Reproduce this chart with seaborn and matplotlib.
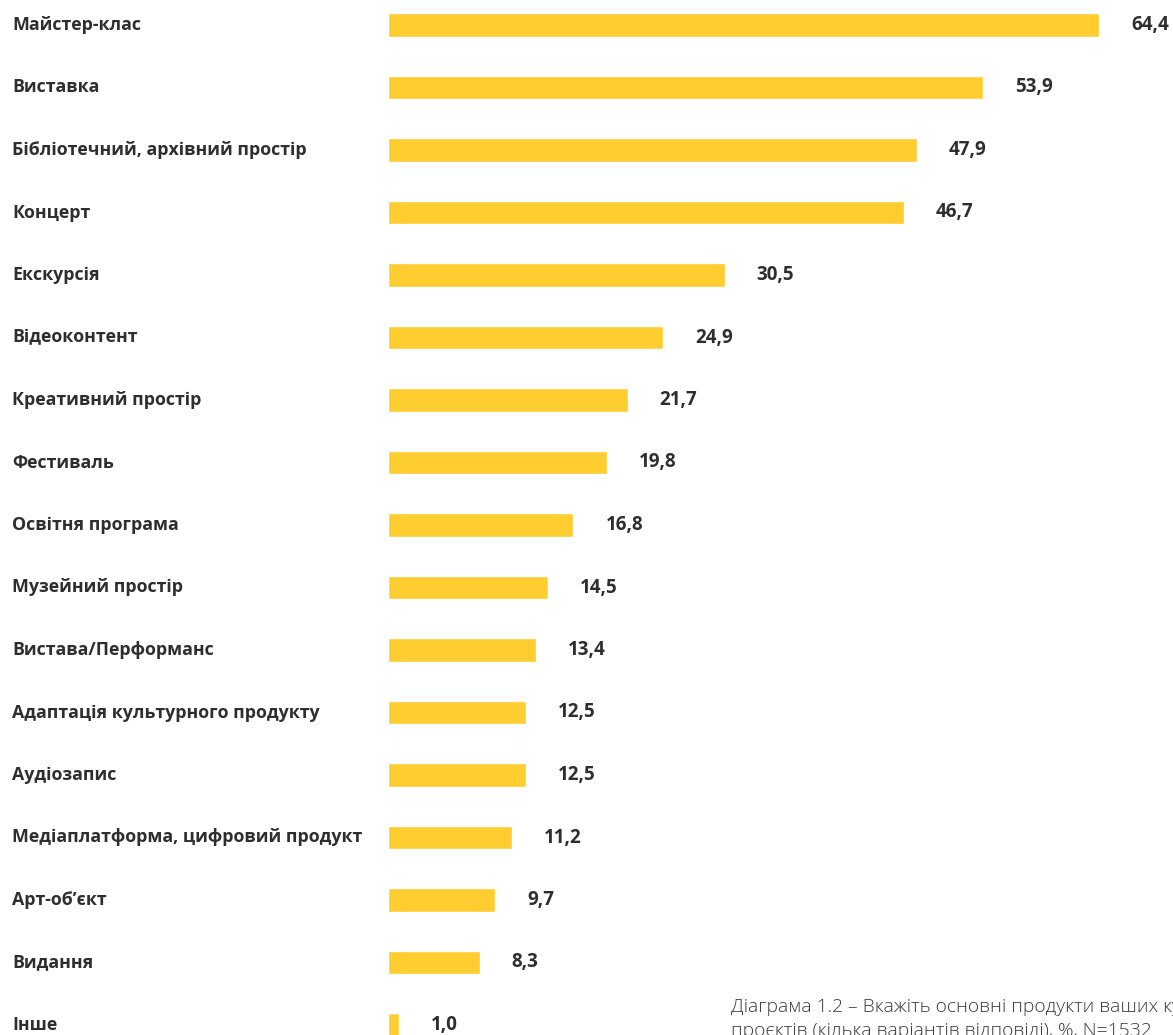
import matplotlib
matplotlib.use("Agg")
import matplotlib.pyplot as plt
import seaborn as sns
import pandas as pd

categories = [
    "Майстер-клас",
    "Виставка",
    "Бібліотечний, архівний простір",
    "Концерт",
    "Екскурсія",
    "Відеоконтент",
    "Креативний простір",
    "Фестиваль",
    "Освітня програма",
    "Музейний простір",
    "Вистава/Перформанс",
    "Адаптація культурного продукту",
    "Аудіозапис",
    "Медіаплатформа, цифровий продукт",
    "Арт-об’єкт",
    "Видання",
    "Інше",
]
values = [64.4, 53.9, 47.9, 46.7, 30.5, 24.9, 21.7, 19.8, 16.8, 14.5,
          13.4, 12.5, 12.5, 11.2, 9.7, 8.3, 1.0]
value_labels = [f"{v:.1f}".replace(".", ",") for v in values]

caption = ("Діаграма 1.2 – Вкажіть основні продукти ваших культурних\n"
           "проєктів (кілька варіантів відповіді), %, N=1532")

df = pd.DataFrame({"category": categories, "value": values})

sns.set_theme(style="white")
plt.rcParams["font.family"] = ["Open Sans", "DejaVu Sans"]

W, H = 1173, 1035
fig = plt.figure(figsize=(W / 100, H / 100), dpi=100)
left_px = 388
ax = fig.add_axes([left_px / W, 0, 1 - left_px / W, 1])

sns.barplot(data=df, x="value", y="category", order=categories,
            color="#FFCD2F", saturation=1, width=0.37, ax=ax)

px_per_unit = (1099 - left_px) / 64.4
ax.set_xlim(0, (W - left_px) / px_per_unit)
ax.set_ylim(16 + 10 * 0.016, -25 * 0.016)
ax.set_axis_off()

text_color = "#2e2e2e"
for i, (cat, v, lab) in enumerate(zip(categories, values, value_labels)):
    ax.text(v + 32 / px_per_unit, i, lab, ha="left", va="center",
            fontsize=13.5, fontweight="bold", color=text_color)
    fig.text(12 / W, 1 - (25 + i * 62.5) / H, cat, ha="left", va="center",
             fontsize=12.8, fontweight="bold", color=text_color)

fig.text(731 / W, 1 - 998 / H, caption, ha="left", va="top",
         fontsize=13.9, fontweight="light", color="#3a3a3a", linespacing=1.45)

fig.savefig("out.png", dpi=100)
